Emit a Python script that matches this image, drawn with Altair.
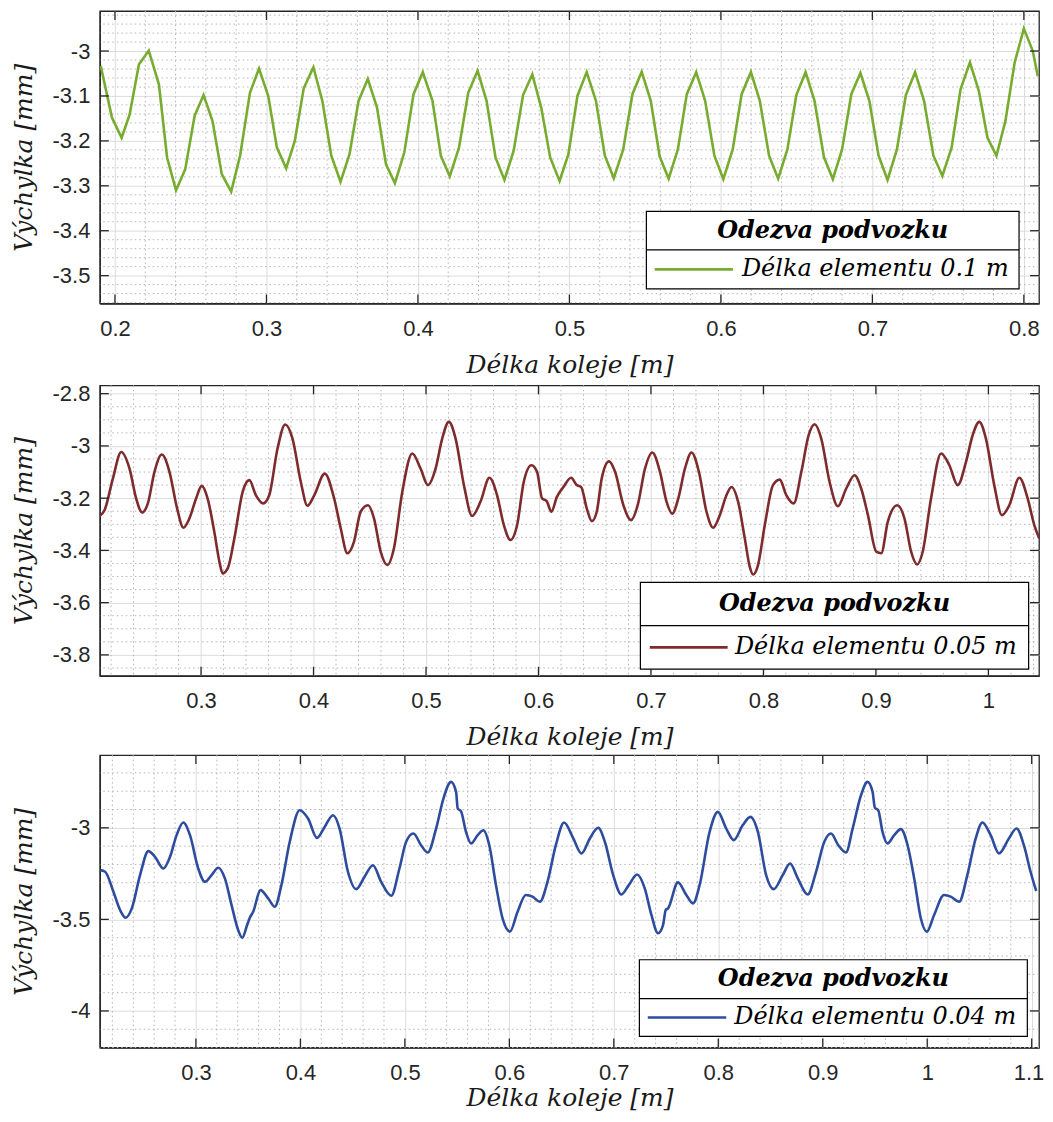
import altair as alt
import numpy as np
import pandas as pd

# ---------------- data ----------------
# Panel 1: element length 0.1 m (piecewise linear)
x1 = [0.1906, 0.198, 0.2044, 0.2097, 0.2158, 0.2223, 0.229, 0.2344, 0.2403, 0.2464,
      0.2526, 0.2585, 0.2644, 0.2705, 0.2767, 0.2826, 0.2891, 0.2951, 0.3012, 0.3069,
      0.313, 0.3187, 0.3246, 0.331, 0.3369, 0.3428, 0.3489, 0.3548, 0.3608, 0.3669,
      0.373, 0.3789, 0.3848, 0.391, 0.3971, 0.4032, 0.4096, 0.4151, 0.421, 0.4271,
      0.4332, 0.4394, 0.4453, 0.4512, 0.4571, 0.4632, 0.4694, 0.4755, 0.4814, 0.4873,
      0.4935, 0.4993, 0.5053, 0.5114, 0.5175, 0.5234, 0.5293, 0.5355, 0.5416, 0.5477,
      0.5537, 0.5596, 0.5655, 0.5716, 0.5775, 0.5837, 0.5896, 0.5957, 0.6016, 0.6078,
      0.6137, 0.6198, 0.6257, 0.6318, 0.6378, 0.6439, 0.6498, 0.6559, 0.6618, 0.668,
      0.6739, 0.68, 0.6861, 0.6921, 0.698, 0.7041, 0.71, 0.7162, 0.7221, 0.7282,
      0.7341, 0.7403, 0.7462, 0.7523, 0.7582, 0.7644, 0.7703, 0.776, 0.7819, 0.7878,
      0.7939, 0.8, 0.8059, 0.8092]
y1 = [-3.033, -3.148, -3.193, -3.141, -3.03, -2.999, -3.074, -3.237, -3.31, -3.263,
      -3.144, -3.098, -3.156, -3.274, -3.313, -3.233, -3.093, -3.039, -3.1, -3.215,
      -3.261, -3.2, -3.083, -3.036, -3.111, -3.233, -3.291, -3.23, -3.111, -3.062,
      -3.126, -3.252, -3.294, -3.226, -3.096, -3.047, -3.111, -3.233, -3.279, -3.215,
      -3.093, -3.044, -3.111, -3.237, -3.287, -3.222, -3.098, -3.052, -3.126, -3.237,
      -3.289, -3.23, -3.1, -3.047, -3.111, -3.233, -3.283, -3.219, -3.096, -3.046,
      -3.111, -3.235, -3.284, -3.219, -3.096, -3.047, -3.111, -3.233, -3.285, -3.219,
      -3.096, -3.047, -3.111, -3.233, -3.284, -3.219, -3.098, -3.047, -3.111, -3.236,
      -3.285, -3.219, -3.096, -3.049, -3.111, -3.233, -3.287, -3.219, -3.098, -3.047,
      -3.111, -3.233, -3.278, -3.215, -3.085, -3.025, -3.089, -3.193, -3.233, -3.156,
      -3.026, -2.95, -3.0, -3.056]

# Panel 2: element length 0.05 m
x2 = [0.2098, 0.2142, 0.2216, 0.229, 0.2364, 0.2423, 0.2477, 0.2527, 0.2586, 0.2651,
      0.2719, 0.2787, 0.2843, 0.2896, 0.2956, 0.3006, 0.3058, 0.3118, 0.3163, 0.3192,
      0.3237, 0.3296, 0.337, 0.3429, 0.3488, 0.3553, 0.3606, 0.368, 0.3748, 0.3813,
      0.3887, 0.3946, 0.4006, 0.41, 0.4183, 0.4242, 0.4301, 0.436, 0.4419, 0.4484,
      0.4538, 0.4597, 0.4656, 0.4715, 0.4789, 0.4878, 0.4952, 0.5017, 0.5085, 0.5144,
      0.5203, 0.5263, 0.5337, 0.541, 0.5484, 0.5564, 0.5632, 0.5692, 0.5751, 0.581,
      0.5869, 0.5937, 0.5987, 0.6032, 0.6073, 0.6114, 0.6164, 0.6222, 0.629, 0.634,
      0.6379, 0.6429, 0.6474, 0.6518, 0.6562, 0.6627, 0.6681, 0.6755, 0.6823, 0.6882,
      0.6947, 0.7012, 0.708, 0.7139, 0.7189, 0.7243, 0.7302, 0.7361, 0.7426, 0.7494,
      0.7553, 0.7612, 0.7671, 0.7716, 0.7775, 0.7834, 0.7878, 0.7908, 0.7952, 0.8012,
      0.8085, 0.8145, 0.8204, 0.8269, 0.8337, 0.8402, 0.8455, 0.8514, 0.8588, 0.8662,
      0.8736, 0.881, 0.8869, 0.8929, 0.9003, 0.9047, 0.9106, 0.9189, 0.9254, 0.9313,
      0.9366, 0.9416, 0.949, 0.9579, 0.9653, 0.9727, 0.9801, 0.986, 0.9919, 0.9978,
      1.0052, 1.012, 1.0186, 1.0275, 1.0349, 1.0408, 1.0452]
y2 = [-3.268, -3.246, -3.125, -3.023, -3.087, -3.201, -3.255, -3.22, -3.099, -3.033,
      -3.099, -3.239, -3.313, -3.278, -3.201, -3.153, -3.201, -3.329, -3.443, -3.488,
      -3.469, -3.354, -3.176, -3.131, -3.189, -3.22, -3.189, -3.01, -2.918, -2.972,
      -3.138, -3.229, -3.189, -3.106, -3.201, -3.316, -3.411, -3.366, -3.252, -3.227,
      -3.278, -3.405, -3.456, -3.392, -3.176, -3.029, -3.087, -3.15, -3.087, -2.972,
      -2.908, -2.972, -3.15, -3.268, -3.214, -3.122, -3.189, -3.303, -3.36, -3.303,
      -3.138, -3.074, -3.099, -3.201, -3.211, -3.252, -3.195, -3.157, -3.122, -3.15,
      -3.157, -3.239, -3.288, -3.252, -3.125, -3.059, -3.099, -3.227, -3.284, -3.227,
      -3.087, -3.025, -3.099, -3.214, -3.259, -3.201, -3.087, -3.025, -3.099, -3.252,
      -3.313, -3.265, -3.189, -3.157, -3.214, -3.354, -3.462, -3.492, -3.456, -3.303,
      -3.15, -3.129, -3.189, -3.22, -3.099, -2.959, -2.917, -2.972, -3.138, -3.231,
      -3.163, -3.112, -3.163, -3.265, -3.405, -3.411, -3.29, -3.227, -3.278, -3.405,
      -3.454, -3.405, -3.201, -3.029, -3.074, -3.15, -3.061, -2.959, -2.908, -2.972,
      -3.15, -3.265, -3.227, -3.122, -3.201, -3.303, -3.354]

# Panel 3: element length 0.04 m
x3 = [0.2083, 0.2131, 0.221, 0.2274, 0.2328, 0.2386, 0.2465, 0.2545, 0.2608, 0.2688,
      0.2752, 0.2815, 0.2879, 0.2943, 0.3022, 0.3086, 0.315, 0.3213, 0.3277, 0.3341,
      0.3404, 0.3443, 0.349, 0.3516, 0.3548, 0.3618, 0.3691, 0.3755, 0.3818, 0.3898,
      0.3993, 0.4073, 0.4159, 0.4232, 0.4312, 0.4375, 0.4455, 0.4535, 0.4614, 0.4694,
      0.4773, 0.4869, 0.4948, 0.5012, 0.5082, 0.5155, 0.5219, 0.5299, 0.5369, 0.5442,
      0.549, 0.5506, 0.5537, 0.5585, 0.5633, 0.5697, 0.5751, 0.5808, 0.5872, 0.5935,
      0.6005, 0.6079, 0.6158, 0.6222, 0.6292, 0.6365, 0.6445, 0.6524, 0.6612, 0.6691,
      0.6771, 0.685, 0.6914, 0.6994, 0.7073, 0.7143, 0.7223, 0.7296, 0.736, 0.7423,
      0.7471, 0.7497, 0.7519, 0.7614, 0.7694, 0.7758, 0.7821, 0.7917, 0.7996, 0.8076,
      0.8149, 0.8235, 0.8308, 0.8379, 0.8458, 0.8531, 0.8617, 0.8687, 0.8761, 0.8856,
      0.8936, 0.9015, 0.9079, 0.9149, 0.9222, 0.9286, 0.9366, 0.9429, 0.9477, 0.9499,
      0.9531, 0.9572, 0.962, 0.9684, 0.9748, 0.9812, 0.9875, 0.9939, 0.9996, 1.0066,
      1.0161, 1.0225, 1.0305, 1.0384, 1.0464, 1.0528, 1.0607, 1.0687, 1.0782, 1.0855,
      1.0925, 1.0989, 1.1043]
y3 = [-3.231, -3.24, -3.349, -3.449, -3.491, -3.44, -3.258, -3.127, -3.158, -3.222,
      -3.158, -3.04, -2.971, -3.04, -3.222, -3.295, -3.258, -3.218, -3.276, -3.422,
      -3.558, -3.6, -3.531, -3.491, -3.458, -3.34, -3.385, -3.431, -3.313, -3.076,
      -2.904, -2.949, -3.055, -2.995, -2.931, -3.004, -3.24, -3.335, -3.267, -3.204,
      -3.295, -3.371, -3.222, -3.076, -3.031, -3.095, -3.135, -3.004, -2.84, -2.749,
      -2.804, -2.895, -2.909, -3.022, -3.085, -3.04, -3.013, -3.095, -3.313, -3.495,
      -3.567, -3.458, -3.367, -3.376, -3.404, -3.295, -3.095, -2.971, -3.058, -3.14,
      -3.058, -3.0, -3.076, -3.258, -3.364, -3.313, -3.255, -3.331, -3.476, -3.576,
      -3.531, -3.449, -3.44, -3.298, -3.367, -3.413, -3.313, -3.022, -2.913, -3.004,
      -3.067, -2.985, -2.94, -3.022, -3.258, -3.335, -3.258, -3.195, -3.276, -3.364,
      -3.24, -3.076, -3.031, -3.095, -3.135, -3.004, -2.822, -2.749, -2.804, -2.891,
      -2.904, -3.022, -3.085, -3.04, -3.007, -3.095, -3.276, -3.495, -3.567, -3.476,
      -3.367, -3.376, -3.404, -3.258, -3.058, -2.971, -3.04, -3.14, -3.058, -3.004,
      -3.095, -3.24, -3.345]

# tick values
xticks1 = [0.2, 0.3, 0.4, 0.5, 0.6, 0.7, 0.8]
yticks1 = [-3.5, -3.4, -3.3, -3.2, -3.1, -3.0]
xticks2 = [0.3, 0.4, 0.5, 0.6, 0.7, 0.8, 0.9, 1.0]
yticks2 = [-3.8, -3.6, -3.4, -3.2, -3.0, -2.8]
xticks3 = [0.3, 0.4, 0.5, 0.6, 0.7, 0.8, 0.9, 1.0, 1.1]
yticks3 = [-4.0, -3.5, -3.0]

LEGEND_TITLE = "Odezva podvozku"
labels = ["Délka elementu 0.1 m", "Délka elementu 0.05 m", "Délka elementu 0.04 m"]
colors = ["#77AC30", "#7E2B2E", "#2E4C9E"]

W = 941
SERIF = "DejaVu Serif"
SANS = "Liberation Sans"
INK = "#262626"
LABEL_EXPR = "replace(format(datum.value, '.2~f'), '\u2212', '-')"


def minor_values(dom, step, majors):
    lo = int(np.ceil(dom[0] / step - 1e-9))
    hi = int(np.floor(dom[1] / step + 1e-9))
    out = []
    for k in range(lo, hi + 1):
        v = round(k * step, 4)
        if all(abs(v - m) > step / 4 for m in majors):
            out.append(v)
    return out


def panel(xs, ys, color, label, xdom, ydom, xmaj, ymaj, xstep, ystep, H, interp, leg,
          title_y, flush):
    xsc = alt.Scale(domain=xdom, nice=False, zero=False)
    ysc = alt.Scale(domain=ydom, nice=False, zero=False)
    xax = alt.Axis(values=xmaj, title="Délka koleje [m]", labelExpr=LABEL_EXPR,
                   labelPadding=15, labelFlush=flush, labelFlushOffset=12,
                   labelOverlap=False, titleY=title_y, titleBaseline="alphabetic")
    yax = alt.Axis(values=ymaj, title="Výchylka [mm]", labelExpr=LABEL_EXPR,
                   labelPadding=10, labelFlush=False, labelOverlap=False,
                   titleX=-68, titleBaseline="alphabetic")
    X = alt.X("x:Q", scale=xsc, axis=xax)
    Y = alt.Y("y:Q", scale=ysc, axis=yax)

    df = pd.DataFrame({"x": xs, "y": ys})
    mx = pd.DataFrame({"x": minor_values(xdom, xstep, xmaj)})
    my = pd.DataFrame({"y": minor_values(ydom, ystep, ymaj)})
    tx = pd.DataFrame({"x": xmaj})
    ty = pd.DataFrame({"y": ymaj})
    one = pd.DataFrame({"k": [0]})

    dot = dict(color="#b4b4b4", strokeWidth=1, strokeDash=[1.5, 3])
    minor_x = alt.Chart(mx).mark_rule(**dot).encode(x=X)
    minor_y = alt.Chart(my).mark_rule(**dot).encode(y=Y)

    line = alt.Chart(df).mark_line(color=color, strokeWidth=2.6, interpolate=interp,
                                   clip=True).encode(x=X, y=Y)

    tk = dict(color=INK, strokeWidth=1.3)
    tb = alt.Chart(tx).mark_rule(**tk).encode(x=X, y=alt.value(H), y2=alt.value(H - 9))
    tt = alt.Chart(tx).mark_rule(**tk).encode(x=X, y=alt.value(0), y2=alt.value(9))
    tl = alt.Chart(ty).mark_rule(**tk).encode(y=Y, x=alt.value(0), x2=alt.value(9))
    tr = alt.Chart(ty).mark_rule(**tk).encode(y=Y, x=alt.value(W), x2=alt.value(W - 9))

    bx0, bx1, by0, by1, dvy, sx0, sx1, lx = leg
    ly = (dvy + by1) / 2
    tyc = (by0 + dvy) / 2
    box = alt.Chart(one).mark_rect(fill="white", stroke="black", strokeWidth=1.2).encode(
        x=alt.value(bx0), x2=alt.value(bx1), y=alt.value(by0), y2=alt.value(by1))
    div = alt.Chart(one).mark_rule(color="black", strokeWidth=1.2).encode(
        x=alt.value(bx0), x2=alt.value(bx1), y=alt.value(dvy))
    samp = alt.Chart(one).mark_rule(color=color, strokeWidth=2.6).encode(
        x=alt.value(sx0), x2=alt.value(sx1), y=alt.value(ly))
    ttl = alt.Chart(one).mark_text(font=SERIF, fontSize=24, fontStyle="italic",
                                   fontWeight="bold", color="black", align="center",
                                   baseline="middle").encode(
        x=alt.value((bx0 + bx1) / 2), y=alt.value(tyc), text=alt.value(LEGEND_TITLE))
    lbl = alt.Chart(one).mark_text(font=SERIF, fontSize=24, fontStyle="italic",
                                   color="black", align="left",
                                   baseline="middle").encode(
        x=alt.value(lx), y=alt.value(ly), text=alt.value(label))

    return alt.layer(minor_x, minor_y, line, tb, tt, tl, tr, box, div, samp, ttl, lbl
                     ).properties(width=W, height=H)


p1 = panel(x1, y1, colors[0], labels[0], [0.19, 0.81], [-3.562, -2.911],
           xticks1, yticks1, 0.02, 0.02, 293, "linear",
           (547.6, 921.0, 200.7, 278.3, 239.3, 556.0, 634.3, 643.3), 69, False)
p2 = panel(x2, y2, colors[1], labels[1], [0.21, 1.045], [-3.88, -2.768],
           xticks2, yticks2, 0.02, 0.05, 291, "monotone",
           (541.6, 930.6, 197.4, 284.4, 240.7, 551.0, 629.0, 636.3), 69, False)
p3 = panel(x3, y3, colors[2], labels[2], [0.208, 1.107], [-4.2, -2.603],
           xticks3, yticks3, 0.02, 0.1, 293, "monotone",
           (540.6, 929.3, 205.0, 281.7, 244.0, 549.0, 627.6, 635.6), 58, 10)

chart = alt.vconcat(alt.vconcat(p1, p2, spacing=3), p3, spacing=2.5).properties(
    padding={"left": 3, "top": 0, "right": 0, "bottom": 0}
).configure_axis(
    labelFont=SANS, labelFontSize=22, labelColor=INK,
    titleFont=SERIF, titleFontSize=25, titleFontStyle="italic",
    titleFontWeight="normal", titleColor="#1a1a1a",
    domainColor=INK, domainWidth=1.3, ticks=False,
    gridColor="#dcdcdc", gridWidth=1,
).configure_view(stroke=INK, strokeWidth=1.3)

chart.save("out.html", embed_options={"renderer": "svg", "actions": False})
